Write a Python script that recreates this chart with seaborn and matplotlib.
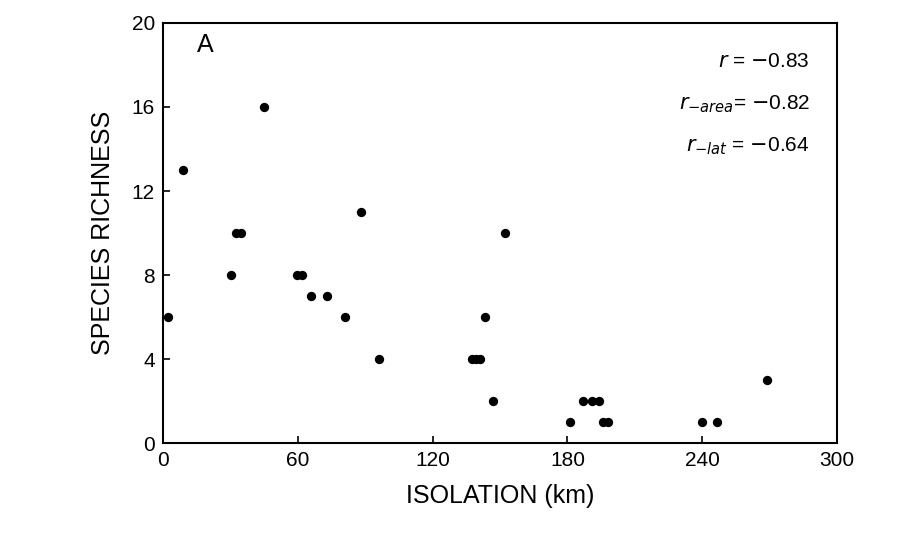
import numpy as np
import pandas as pd
import matplotlib
matplotlib.use('Agg')
import matplotlib.pyplot as plt
import seaborn as sns

# values
isolation = [2, 9, 45, 30, 32.5, 34.5, 59.5, 62, 66, 73, 81, 88, 96,
             137.5, 139.5, 141, 143.5, 147, 152, 181, 187, 191, 194, 196, 198,
             240, 246.5, 269]
richness = [6, 13, 16, 8, 10, 10, 8, 8, 7, 7, 6, 11, 4,
            4, 4, 4, 6, 2, 10, 1, 2, 2, 2, 1, 1,
            1, 1, 3]
xticks = [0, 60, 120, 180, 240, 300]
yticks = [0, 4, 8, 12, 16, 20]

df = pd.DataFrame({'iso': isolation, 'rich': richness})

sns.set_style('ticks')
plt.rcParams['font.family'] = ['Liberation Sans', 'DejaVu Sans']
plt.rcParams['text.color'] = 'black'
plt.rcParams['axes.labelcolor'] = 'black'
plt.rcParams['xtick.color'] = 'black'
plt.rcParams['ytick.color'] = 'black'
plt.rcParams['axes.edgecolor'] = 'black'

fig = plt.figure(figsize=(8.97, 5.47), dpi=100)
ax = fig.add_axes([0.182, 0.190, 0.751, 0.768])
sns.scatterplot(data=df, x='iso', y='rich', ax=ax, color='black', s=45,
                edgecolor='black', linewidth=0, legend=False)

ax.set_xlim(0, 300)
ax.set_ylim(0, 20)
ax.set_xticks(xticks)
ax.set_yticks(yticks)
ax.tick_params(direction='in', length=5, width=1.2, labelsize=15, pad=6)
for s in ax.spines.values():
    s.set_linewidth(1.5)
    s.set_visible(True)
ax.set_xlabel('ISOLATION (km)', fontsize=18, labelpad=10)
ax.set_ylabel('SPECIES RICHNESS', fontsize=18, labelpad=12)

ax.text(15, 18.6, 'A', fontsize=18)
ax.text(288, 17.9, r'$r$ = $-$0.83', fontsize=15, ha='right')
ax.text(288, 15.9, r'$r_{-area}$= $-$0.82', fontsize=15, ha='right')
ax.text(288, 13.9, r'$r_{-lat}$ = $-$0.64', fontsize=15, ha='right')

fig.savefig('out.png', dpi=100)
